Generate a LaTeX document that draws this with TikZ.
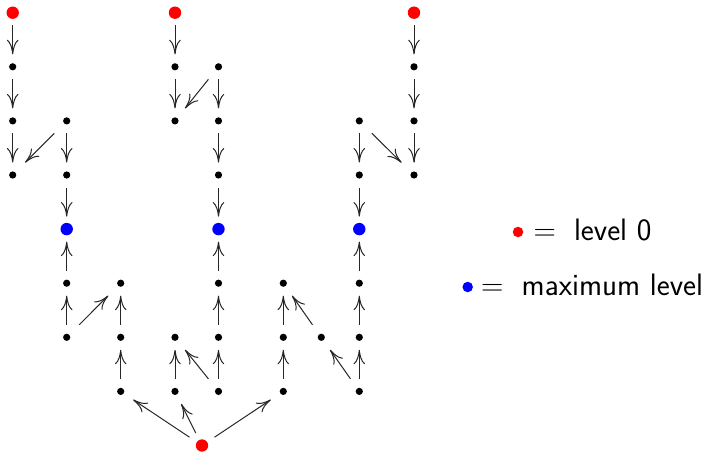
\documentclass[tikz,border=0pt]{standalone}
\usetikzlibrary{arrows.meta}
\begin{document}
\begin{tikzpicture}[x=1pt,y=-1pt,
  vtx/.style={rectangle, minimum size=25pt, inner sep=0pt, outer sep=0pt},
  plain/.style={vtx, path picture={\fill[black] (path picture bounding box.center) circle (3.6pt);}},
  lvlzero/.style={vtx, path picture={\fill[red] (path picture bounding box.center) circle (6.2pt);}},
  lvlmax/.style={vtx, path picture={\fill[blue] (path picture bounding box.center) circle (6.2pt);}},
  arr/.style={-{To[length=14.5pt,width=11.5pt]}, line width=1pt, black!85},
  keydot/.style={circle, inner sep=0pt, minimum size=10.5pt},
  keytext/.style={anchor=base west, inner sep=0pt, font=\fontsize{31}{36}\selectfont},
]
\useasboundingbox (0,0) rectangle (705,452);

% rows and columns of the grid
\def\rA{12.7}\def\rB{66.8}\def\rC{120.9}\def\rD{175}\def\rE{229.1}
\def\rF{283.2}\def\rG{337.3}\def\rH{391.4}\def\rI{445.5}

% column A
\node[lvlzero] (a0) at (12.7,\rA) {};
\node[plain]   (a1) at (12.7,\rB) {};
\node[plain]   (a2) at (12.7,\rC) {};
\node[plain]   (a3) at (12.7,\rD) {};
% column B
\node[plain]   (b2) at (66.7,\rC) {};
\node[plain]   (b3) at (66.7,\rD) {};
\node[lvlmax]  (b4) at (66.7,\rE) {};
\node[plain]   (b5) at (66.7,\rF) {};
\node[plain]   (b6) at (66.7,\rG) {};
% column C
\node[plain]   (c5) at (120.7,\rF) {};
\node[plain]   (c6) at (120.7,\rG) {};
\node[plain]   (c7) at (120.7,\rH) {};
% column D
\node[lvlzero] (d0) at (175,\rA) {};
\node[plain]   (d1) at (175,\rB) {};
\node[plain]   (d2) at (175,\rC) {};
\node[plain]   (d6) at (175,\rG) {};
\node[plain]   (d7) at (175,\rH) {};
% column E
\node[plain]   (e1) at (218.5,\rB) {};
\node[plain]   (e2) at (218.5,\rC) {};
\node[plain]   (e3) at (218.5,\rD) {};
\node[lvlmax]  (e4) at (218.5,\rE) {};
\node[plain]   (e5) at (218.5,\rF) {};
\node[plain]   (e6) at (218.5,\rG) {};
\node[plain]   (e7) at (218.5,\rH) {};
% column F
\node[plain]   (f5) at (283.3,\rF) {};
\node[plain]   (f6) at (283.3,\rG) {};
\node[plain]   (f7) at (283.3,\rH) {};
% column G
\node[plain]   (g6) at (321.3,\rG) {};
% column H
\node[plain]   (h2) at (359.3,\rC) {};
\node[plain]   (h3) at (359.3,\rD) {};
\node[lvlmax]  (h4) at (359.3,\rE) {};
\node[plain]   (h5) at (359.3,\rF) {};
\node[plain]   (h6) at (359.3,\rG) {};
\node[plain]   (h7) at (359.3,\rH) {};
% column I
\node[lvlzero] (i0) at (414,\rA) {};
\node[plain]   (i1) at (414,\rB) {};
\node[plain]   (i2) at (414,\rC) {};
\node[plain]   (i3) at (414,\rD) {};
% bottom source
\node[lvlzero] (z) at (202,\rI) {};

% downward paths from the top sources
\draw[arr] (a0) -- (a1);
\draw[arr] (a1) -- (a2);
\draw[arr] (a2) -- (a3);
\draw[arr] (b2) -- (a3);
\draw[arr] (b2) -- (b3);
\draw[arr] (b3) -- (b4);
\draw[arr] (d0) -- (d1);
\draw[arr] (d1) -- (d2);
\draw[arr] (e1) -- (d2);
\draw[arr] (e1) -- (e2);
\draw[arr] (e2) -- (e3);
\draw[arr] (e3) -- (e4);
\draw[arr] (h2) -- (h3);
\draw[arr] (h3) -- (h4);
\draw[arr] (h2) -- (i3);
\draw[arr] (i0) -- (i1);
\draw[arr] (i1) -- (i2);
\draw[arr] (i2) -- (i3);

% upward paths from the bottom source
\draw[arr] (z) -- (c7);
\draw[arr] (z) -- (d7);
\draw[arr] (z) -- (f7);
\draw[arr] (b5) -- (b4);
\draw[arr] (b6) -- (b5);
\draw[arr] (b6) -- (c5);
\draw[arr] (c7) -- (c6);
\draw[arr] (c6) -- (c5);
\draw[arr] (d7) -- (d6);
\draw[arr] (e7) -- (d6);
\draw[arr] (e7) -- (e6);
\draw[arr] (e6) -- (e5);
\draw[arr] (e5) -- (e4);
\draw[arr] (f7) -- (f6);
\draw[arr] (f6) -- (f5);
\draw[arr] (g6) -- (f5);
\draw[arr] (h7) -- (g6);
\draw[arr] (h7) -- (h6);
\draw[arr] (h6) -- (h5);
\draw[arr] (h5) -- (h4);

% key
\node[keydot, fill=red] (keyzero) at (518,232) {};
\node[keytext] (keyzeroeq) at (533.5,240) {=};
\node[keytext, font=\fontsize{31}{36}\selectfont\sffamily] (keyzerotxt) at (573.8,240) {level 0};
\node[keydot, fill=blue] (keymax) at (467.7,287) {};
\node[keytext] (keymaxeq) at (481,295) {=};
\node[keytext, font=\fontsize{31}{36}\selectfont\sffamily] (keymaxtxt) at (521.5,295) {maximum level};
\end{tikzpicture}
\end{document}
